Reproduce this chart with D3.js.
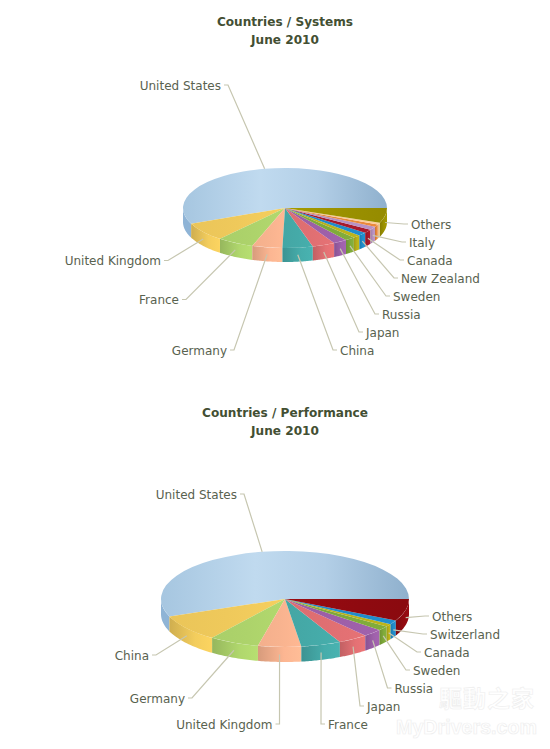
<!DOCTYPE html>
<html><head><meta charset="utf-8">
<script src="https://cdn.jsdelivr.net/npm/d3@7/dist/d3.min.js"></script>
<style>html,body{margin:0;padding:0;background:#fff}svg{display:block}</style>
</head><body><svg id="c" width="550" height="749"></svg>
<script>
// ---- data ----
const systemCountries = ["United States","United Kingdom","France","Germany","China","Japan","Russia","Sweden","","New Zealand","Canada","Italy","","","Others"];
const systemValues    = [282,38,29,24,24,18,11,8,6,7,7,7,5,4,30];
const perfCountries   = ["United States","China","Germany","United Kingdom","France","Japan","Russia","Sweden","Canada","Switzerland","Others"];
const perfValues      = [55.9,9.1,6.5,5.6,5.2,3.9,2.6,1.5,0.9,1.4,7.4];
const systemTitle = ["Countries / Systems","June 2010"];
const perfTitle   = ["Countries / Performance","June 2010"];
const systemColors = ["#b2cfe8","#efc95b","#add36b","#f8b38f","#45aaa8","#e06f72","#9c5fa8","#7ea83a","#b8b01a","#1f8bc8","#a5192b","#b58fbf","#e5863a","#f6c894","#9a9000"];
const perfColors   = ["#b2cfe8","#efc95b","#add36b","#f8b38f","#45aaa8","#e06f72","#9c5fa8","#7ea83a","#b8b01a","#1f8bc8","#8f0a10"];

// ---- layout (label elbows, by country) ----
const systemElbows = {"United States":[228,85],"United Kingdom":[168,260.5],"France":[186,299.5],"Germany":[234,350],"China":[333,350],"Japan":[359,332],"Russia":[375,314],"Sweden":[386,296],"New Zealand":[394,278],"Canada":[400,260],"Italy":[402,242],"Others":[404,224]};
const perfElbows = {"United States":[244,494],"China":[156,655],"Germany":[192,698],"United Kingdom":[279.5,724],"France":[321,724],"Japan":[360,706],"Russia":[387.5,688],"Sweden":[406,670],"Canada":[417,652],"Switzerland":[423,634],"Others":[425,616]};

const svg = d3.select("#c");
const defs = svg.append("defs");
const FONT = "'DejaVu Sans',Verdana,sans-serif";
let uid = 0;

function grad(stops){
  const id = "g"+(uid++);
  const g = defs.append("linearGradient").attr("id",id).attr("x1",0).attr("x2",1).attr("y1",0).attr("y2",0);
  stops.forEach(s=>g.append("stop").attr("offset",s[0]).attr("stop-color",s[1]));
  return `url(#${id})`;
}

function drawPie(o){
  const R = 100, {cx,cy,rx,ry,depth} = o;
  const pie = d3.pie().sort(null).startAngle(Math.PI/2).endAngle(Math.PI/2-2*Math.PI);
  const arcs = pie(o.values);
  const arc = d3.arc().innerRadius(0).outerRadius(R);
  const px = a => cx + rx*Math.sin(a), py = a => cy - ry*Math.cos(a);
  const line = d3.line();
  const root = svg.append("g");
  const last = arcs.length-1;

  // side faces: only the front half of the rim shows
  const frontHi = -Math.PI/2, frontLo = -3*Math.PI/2;
  arcs.forEach((d,i)=>{
    const hi = Math.min(d.startAngle,frontHi), lo = Math.max(d.endAngle,frontLo);
    if(hi<=lo) return;
    const ang = d3.range(0,25).map(k=>hi+(lo-hi)*k/24);
    const pts = ang.map(a=>[px(a),py(a)]).concat(ang.slice().reverse().map(a=>[px(a),py(a)+depth]));
    const c = d3.color(o.colors[i]);
    const f = i===0 ? "#8fb4d6"
      : grad([[0,c.darker(0.4)],[0.6,c.brighter(0.05)],[1,c.brighter(0.15)]]);
    root.append("path").attr("d",line(pts)+"Z").attr("fill",f);
  });

  // top faces
  const top = root.append("g").attr("transform",`translate(${cx},${cy}) scale(${rx/R},${ry/R})`);
  top.selectAll("path").data(arcs).join("path")
    .attr("d",arc)
    .attr("fill",(d,i)=>{
      const c = d3.color(o.colors[i]);
      if(i===0) return grad([[0,"#a6c6e0"],[0.38,"#c0daef"],[0.66,"#b3cfe7"],[1,"#8fb0cd"]]);
      if(i===last) return grad([[0,c.brighter(0.2)],[0.6,c],[1,c.darker(0.1)]]);
      return grad([[0,c.darker(0.06)],[0.5,c],[1,c.brighter(0.08)]]);
    });

  // titles
  o.title.forEach((t,i)=>svg.append("text").attr("x",o.titleX).attr("y",o.titleY+18*i)
    .attr("text-anchor","middle").attr("font-family",FONT).attr("font-weight","bold")
    .attr("font-size",12.1).attr("fill","#434f33").text(t));

  // leaders and labels
  arcs.forEach((d,i)=>{
    const name = o.names[i]; if(!name) return;
    const m = (d.startAngle+d.endAngle)/2;
    const front = Math.cos(m)<0;
    const p = [px(m), py(m)+(front?depth/2:0)];
    const [ex,ey] = o.elbows[name];
    const left = Math.sin(m)<0;
    const s = left?-1:1;
    svg.append("path").attr("d",line([p,[ex,ey],[ex+s*4,ey]]))
      .attr("fill","none").attr("stroke","#c6c6b0").attr("stroke-width",1.2);
    svg.append("text").attr("x",ex+s*7).attr("y",ey+4.5)
      .attr("text-anchor",left?"end":"start").attr("font-family",FONT)
      .attr("font-size",12).attr("fill","#59624f").text(name);
  });
}

drawPie({cx:285,cy:208,rx:102,ry:40,depth:14,values:systemValues,names:systemCountries,colors:systemColors,elbows:systemElbows,title:systemTitle,titleX:285,titleY:26});
drawPie({cx:285,cy:599,rx:124,ry:48,depth:15,values:perfValues,names:perfCountries,colors:perfColors,elbows:perfElbows,title:perfTitle,titleX:285,titleY:417});

// watermark
svg.append("text").attr("x",439).attr("y",707).attr("font-family","'Noto Sans CJK TC'").attr("font-size",23).attr("font-weight","bold")
  .attr("letter-spacing",1).attr("fill","#fff").attr("stroke","#eeeeee").attr("stroke-width",0.6).text("驅動之家");
svg.append("text").attr("x",396).attr("y",734).attr("font-family","'Liberation Sans Narrow','Liberation Sans'").attr("font-size",20).attr("font-weight","bold")
  .attr("textLength",141).attr("lengthAdjust","spacingAndGlyphs")
  .attr("fill","#fff").attr("stroke","#eeeeee").attr("stroke-width",0.7).text("MyDrivers.com");
</script></body></html>
